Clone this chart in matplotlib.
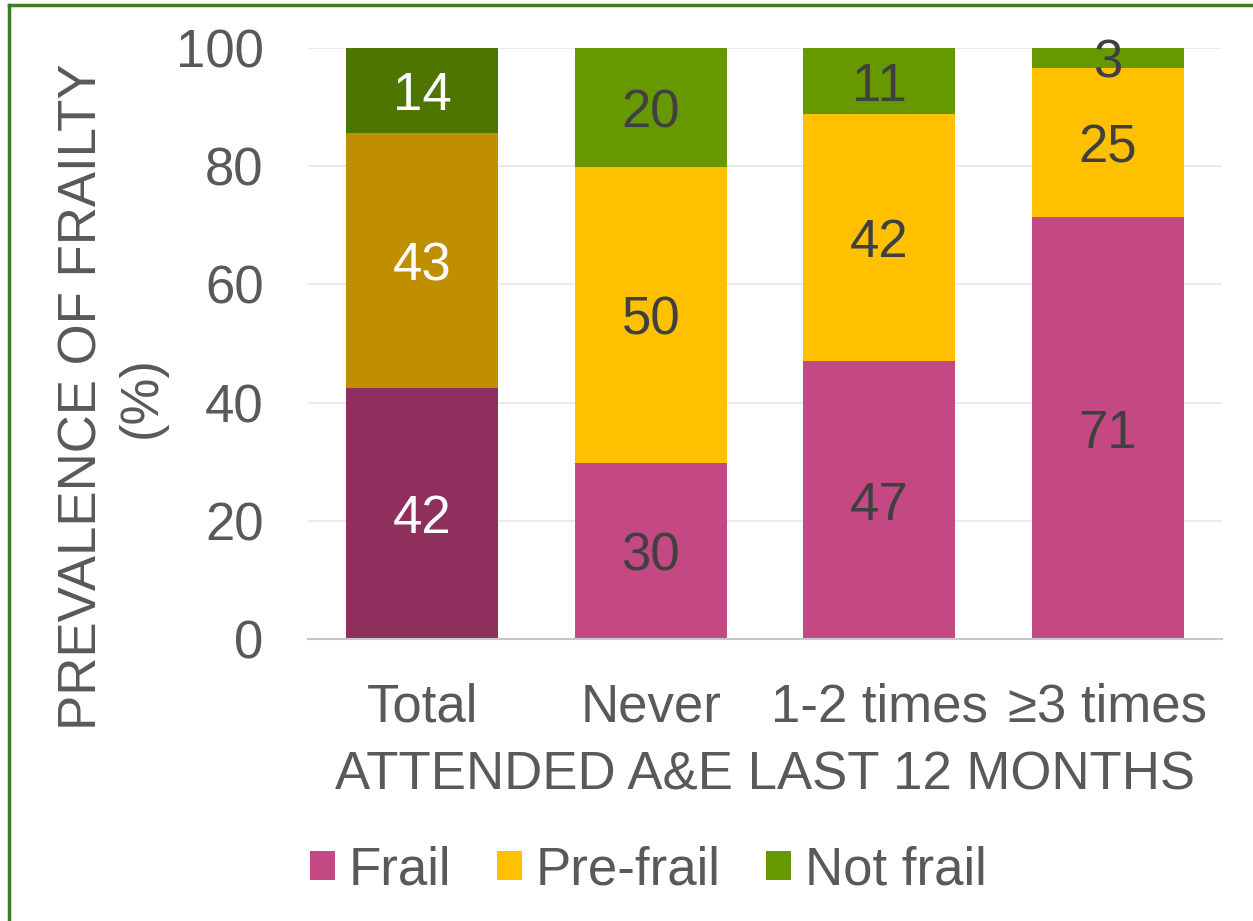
import numpy as np
import matplotlib
matplotlib.use("Agg")
import matplotlib.pyplot as plt
from matplotlib.lines import Line2D
from matplotlib.patches import Patch

plt.rcParams["font.family"] = ["Liberation Sans", "DejaVu Sans"]

# Prevalence of frailty (%) by A&E attendance
groups = ["Total", "Never", "1-2 times", "\u22653 times"]
frail = [42.4, 29.8, 47.0, 71.4]
pre_frail = [43.2, 50.0, 41.8, 25.2]
not_frail = [14.4, 20.2, 11.2, 3.4]
series_names = ["Frail", "Pre-frail", "Not frail"]

# Total bar uses darker shades; the rest use the standard palette
colors_total = ["#8E2F5E", "#BF8F00", "#4E7500"]
colors_other = ["#C34883", "#FFC000", "#669900"]
grey = "#595959"
fs = 38

fig = plt.figure(figsize=(12.53, 9.21), dpi=100)
ax = fig.add_axes([308 / 1253, 1 - 639 / 921, (1222 - 308) / 1253, (639 - 48) / 921])

x = np.arange(len(groups))
width = 0.665
bottoms = np.zeros(len(groups))
for values, k in zip([frail, pre_frail, not_frail], range(3)):
    cols = [colors_total[k] if i == 0 else colors_other[k] for i in range(len(groups))]
    ax.bar(x, values, width, bottom=bottoms, color=cols, zorder=2)
    for i, v in enumerate(values):
        txt_col = "white" if i == 0 else "#404040"
        ax.annotate(f"{v:.0f}", (x[i], bottoms[i] + v / 2), xytext=(0, -4),
                    textcoords="offset points", ha="center", va="center",
                    fontsize=fs, color=txt_col, zorder=3)
    bottoms += np.array(values)

ax.set_xlim(-0.5, len(groups) - 0.5)
ax.set_ylim(0, 100)
ax.set_yticks(np.arange(0, 101, 20))
ax.yaxis.grid(True, color="#EBEBEB", linewidth=1.5, zorder=0)
ax.set_axisbelow(True)
for s in ["top", "right", "left"]:
    ax.spines[s].set_visible(False)
ax.spines["bottom"].set_color("#C8C8C8")
ax.spines["bottom"].set_linewidth(1.5)
ax.tick_params(axis="both", length=0, labelsize=fs, labelcolor=grey)
ax.tick_params(axis="y", pad=32)
ax.tick_params(axis="x", pad=31)
ax.set_xticks(x)
ax.set_xticklabels(groups)
ax.set_xlabel("ATTENDED A&E LAST 12 MONTHS", fontsize=fs, color=grey, labelpad=13)
ax.set_ylabel("PREVALENCE OF FRAILTY\n(%)", fontsize=fs, color=grey,
              linespacing=1.22)
ax.yaxis.set_label_coords(-0.155, 0.41)

handles = [Patch(facecolor=c, label=n) for c, n in zip(colors_other, series_names)]
fig.legend(handles=handles, loc="center", bbox_to_anchor=(648 / 1253, 1 - 870 / 921),
           ncol=3, frameon=False, fontsize=fs, labelcolor=grey,
           handlelength=0.48, handleheight=0.48, handletextpad=0.25, columnspacing=0.87)

# green frame along the top and left edges
fig.add_artist(Line2D([9 / 1253, 9 / 1253], [0, 1 - 5 / 921], transform=fig.transFigure,
                      color="#3A7D22", linewidth=2.5))
fig.add_artist(Line2D([9 / 1253, 1], [1 - 5 / 921, 1 - 5 / 921], transform=fig.transFigure,
                      color="#3A7D22", linewidth=2.5))

fig.savefig("out.png", dpi=100)
